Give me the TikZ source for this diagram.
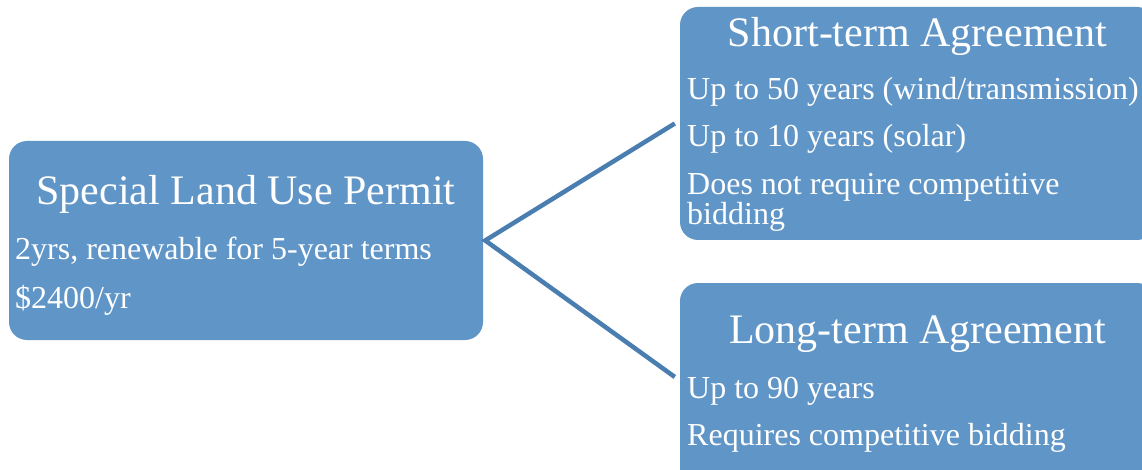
\documentclass[tikz,border=0pt]{standalone}
\usepackage{fontspec}
\setmainfont{Liberation Serif}
\definecolor{boxfill}{RGB}{96,149,199}
\definecolor{connc}{RGB}{74,126,176}
\begin{document}
\begin{tikzpicture}[x=1pt,y=-1pt,
  box/.style={draw=none, fill=boxfill, rounded corners=18pt, inner sep=0pt},
  ttl/.style={text=white, inner sep=0pt, anchor=base, font=\fontsize{42}{42}\selectfont},
  itm/.style={text=white, inner sep=0pt, anchor=base west, align=left, font=\fontsize{32}{28}\selectfont},
  conn/.style={draw=connc, line width=4.5pt}]
\clip (0,0) rectangle (1142,470);
\fill[white] (0,0) rectangle (1142,470);
% boxes
\node[box, minimum width=474pt, minimum height=199pt] (slu) at (246,240.5) {};
\node[box, minimum width=475pt, minimum height=233pt] (st) at (917.5,123.5) {};
\node[box, minimum width=475pt, minimum height=233pt] (lt) at (917.5,399.5) {};
% texts
\node[ttl] (sluT) at (246,205) {Special Land Use Permit};
\node[itm] (slu1) at (15,259) {2yrs, renewable for 5-year terms};
\node[itm] (slu2) at (15,308) {\$2400/yr};
\node[ttl] (stT) at (917.5,47) {Short-term Agreement};
\node[itm] (st1) at (687,100) {Up to 50 years (wind/transmission)};
\node[itm] (st2) at (687,147) {Up to 10 years (solar)};
\node[itm] (st3) at (687,225) {Does not require competitive\\bidding};
\node[ttl] (ltT) at (917.5,343) {Long-term Agreement};
\node[itm] (lt1) at (687,398) {Up to 90 years};
\node[itm] (lt2) at (687,445) {Requires competitive bidding};
% connectors
\coordinate (fork) at ([xshift=2pt]slu.east);
\draw[conn] ([xshift=-5pt]st.west) -- (fork) -- ([xshift=-5pt,yshift=22.5pt]lt.west);
\end{tikzpicture}
\end{document}
